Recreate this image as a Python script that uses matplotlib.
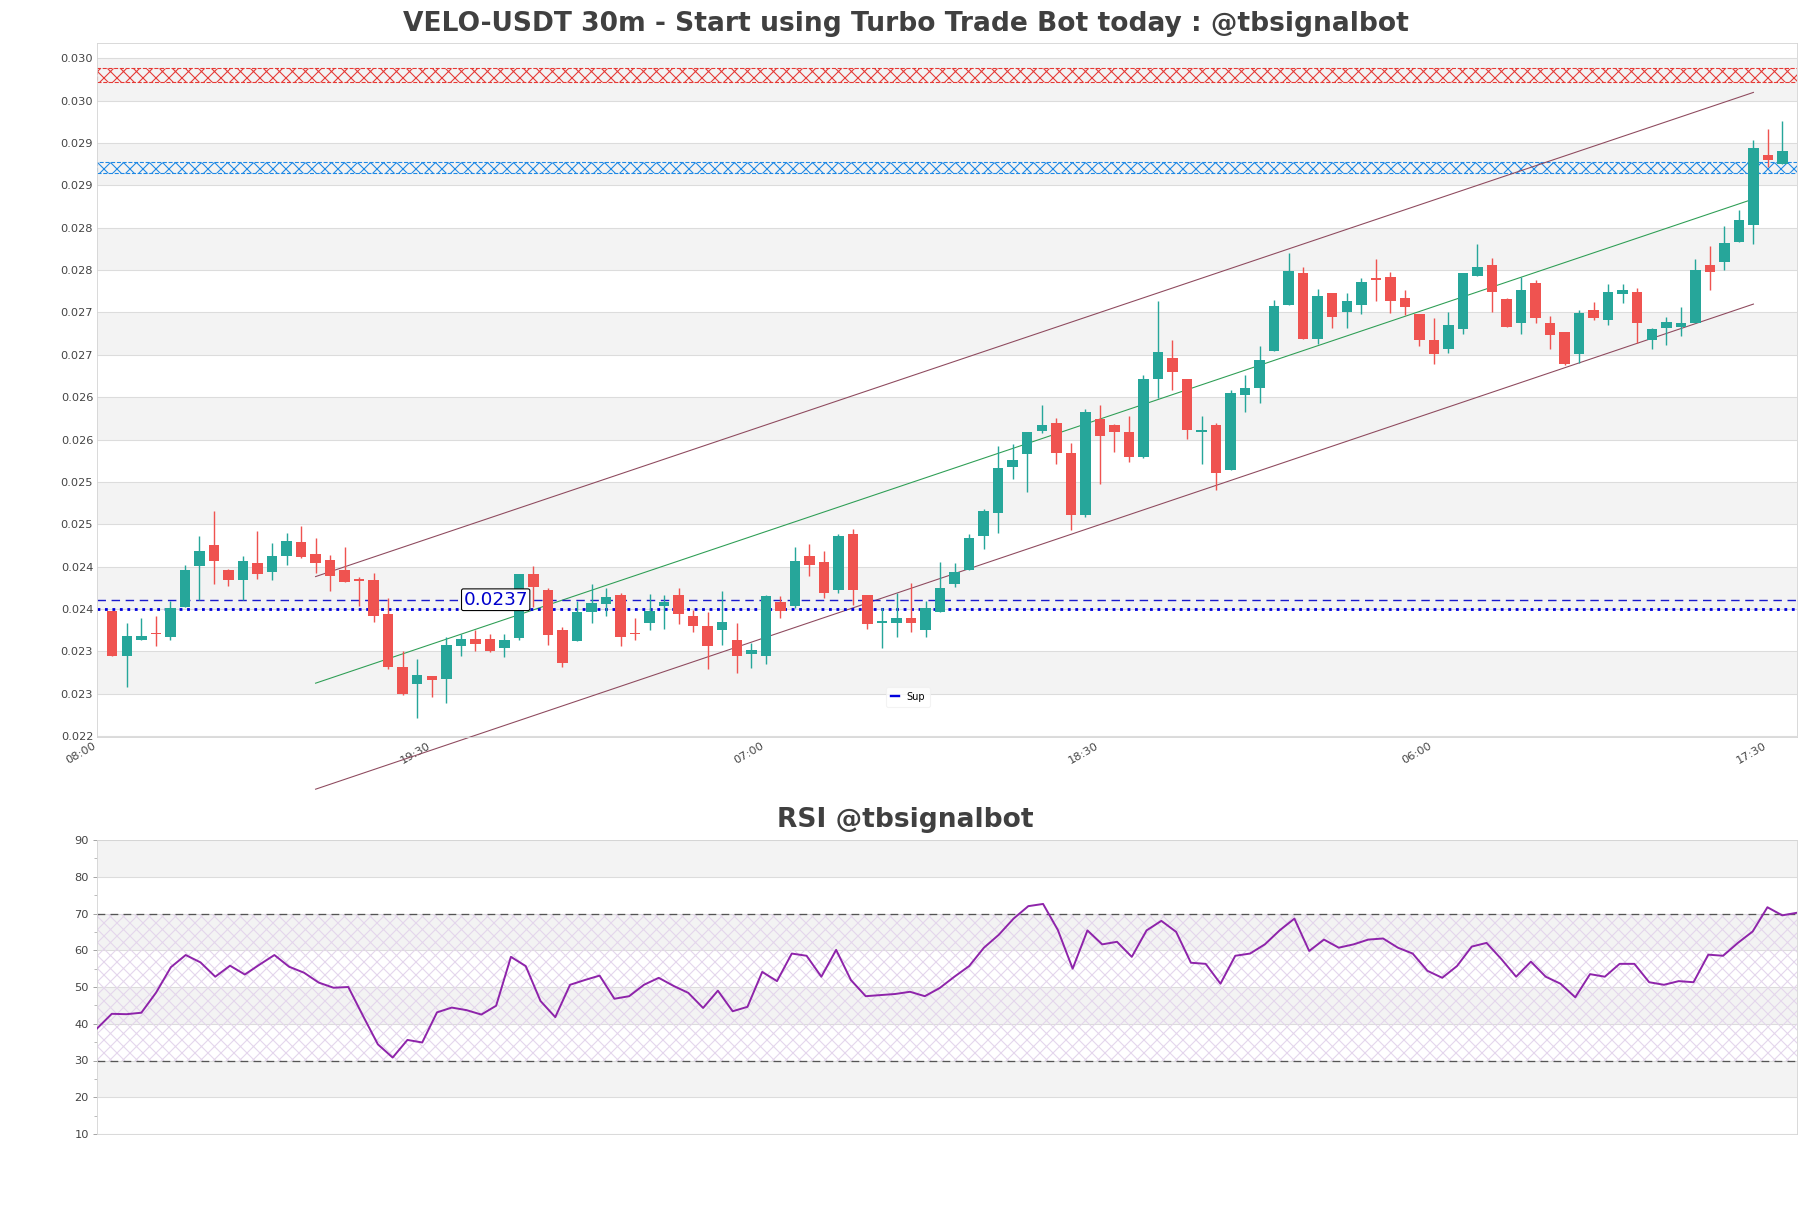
import matplotlib
matplotlib.use("Agg")
import matplotlib.pyplot as plt
import numpy as np

# 30m candles, values
opens = [0.02348, 0.02295, 0.02314, 0.02322, 0.02317, 0.02353, 0.02401, 0.02426, 0.02396, 0.02384,
         0.02404, 0.02394, 0.02413, 0.02429, 0.02415, 0.02408, 0.02396, 0.02384, 0.02384, 0.02344,
         0.02282, 0.02262, 0.02271, 0.02268, 0.02306, 0.02315, 0.02315, 0.02304, 0.02316, 0.02391,
         0.02373, 0.02325, 0.02312, 0.02346, 0.02356, 0.02367, 0.02321, 0.02333, 0.02354, 0.02366,
         0.02342, 0.02330, 0.02325, 0.02314, 0.02297, 0.02294, 0.02358, 0.02354, 0.02413, 0.02406,
         0.02373, 0.02438, 0.02367, 0.02334, 0.02333, 0.02339, 0.02325, 0.02346, 0.02379, 0.02396,
         0.02436, 0.02463, 0.02518, 0.02533, 0.02560, 0.02569, 0.02534, 0.02461, 0.02574, 0.02567,
         0.02559, 0.02530, 0.02622, 0.02646, 0.02622, 0.02559, 0.02567, 0.02514, 0.02603, 0.02611,
         0.02655, 0.02709, 0.02746, 0.02669, 0.02723, 0.02700, 0.02709, 0.02741, 0.02742, 0.02717,
         0.02698, 0.02668, 0.02657, 0.02680, 0.02743, 0.02756, 0.02716, 0.02687, 0.02735, 0.02688,
         0.02677, 0.02651, 0.02703, 0.02691, 0.02722, 0.02724, 0.02668, 0.02682, 0.02683, 0.02688,
         0.02756, 0.02759, 0.02783, 0.02803, 0.02886, 0.02875]
highs = [0.02348, 0.02334, 0.02340, 0.02342, 0.02360, 0.02402, 0.02436, 0.02466, 0.02397, 0.02413,
         0.02442, 0.02428, 0.02440, 0.02448, 0.02434, 0.02414, 0.02423, 0.02388, 0.02392, 0.02363,
         0.02301, 0.02291, 0.02271, 0.02317, 0.02321, 0.02325, 0.02321, 0.02321, 0.02391, 0.02401,
         0.02375, 0.02329, 0.02360, 0.02380, 0.02375, 0.02369, 0.02339, 0.02368, 0.02366, 0.02375,
         0.02349, 0.02346, 0.02371, 0.02334, 0.02310, 0.02366, 0.02365, 0.02423, 0.02427, 0.02419,
         0.02438, 0.02445, 0.02367, 0.02351, 0.02369, 0.02381, 0.02360, 0.02406, 0.02404, 0.02438,
         0.02468, 0.02543, 0.02545, 0.02559, 0.02591, 0.02575, 0.02546, 0.02586, 0.02591, 0.02568,
         0.02578, 0.02626, 0.02714, 0.02668, 0.02622, 0.02578, 0.02570, 0.02608, 0.02626, 0.02661,
         0.02715, 0.02770, 0.02754, 0.02728, 0.02723, 0.02723, 0.02741, 0.02763, 0.02748, 0.02727,
         0.02698, 0.02693, 0.02700, 0.02746, 0.02781, 0.02764, 0.02717, 0.02742, 0.02738, 0.02696,
         0.02677, 0.02703, 0.02712, 0.02734, 0.02734, 0.02729, 0.02682, 0.02695, 0.02706, 0.02763,
         0.02778, 0.02802, 0.02821, 0.02903, 0.02916, 0.02926]
lows = [0.02295, 0.02258, 0.02313, 0.02306, 0.02314, 0.02353, 0.02361, 0.02379, 0.02377, 0.02361,
        0.02386, 0.02384, 0.02402, 0.02410, 0.02392, 0.02371, 0.02382, 0.02354, 0.02335, 0.02279,
        0.02249, 0.02221, 0.02246, 0.02239, 0.02295, 0.02300, 0.02299, 0.02293, 0.02313, 0.02352,
        0.02308, 0.02282, 0.02312, 0.02334, 0.02342, 0.02306, 0.02313, 0.02325, 0.02326, 0.02332,
        0.02323, 0.02279, 0.02308, 0.02275, 0.02281, 0.02285, 0.02339, 0.02351, 0.02389, 0.02363,
        0.02369, 0.02355, 0.02327, 0.02304, 0.02317, 0.02323, 0.02317, 0.02346, 0.02376, 0.02396,
        0.02421, 0.02440, 0.02504, 0.02488, 0.02558, 0.02521, 0.02443, 0.02459, 0.02497, 0.02535,
        0.02523, 0.02528, 0.02599, 0.02609, 0.02551, 0.02521, 0.02490, 0.02514, 0.02583, 0.02593,
        0.02655, 0.02709, 0.02669, 0.02663, 0.02682, 0.02682, 0.02698, 0.02713, 0.02699, 0.02697,
        0.02661, 0.02639, 0.02652, 0.02674, 0.02743, 0.02700, 0.02683, 0.02674, 0.02687, 0.02657,
        0.02638, 0.02640, 0.02691, 0.02685, 0.02711, 0.02664, 0.02657, 0.02662, 0.02672, 0.02688,
        0.02726, 0.02750, 0.02783, 0.02781, 0.02872, 0.02875]
closes = [0.02295, 0.02318, 0.02318, 0.02320, 0.02351, 0.02396, 0.02419, 0.02407, 0.02384, 0.02407,
          0.02391, 0.02413, 0.02430, 0.02412, 0.02404, 0.02389, 0.02382, 0.02383, 0.02342, 0.02282,
          0.02250, 0.02272, 0.02266, 0.02308, 0.02315, 0.02309, 0.02300, 0.02314, 0.02391, 0.02376,
          0.02319, 0.02286, 0.02346, 0.02357, 0.02364, 0.02317, 0.02320, 0.02348, 0.02358, 0.02344,
          0.02330, 0.02306, 0.02335, 0.02294, 0.02302, 0.02365, 0.02348, 0.02407, 0.02402, 0.02369,
          0.02436, 0.02372, 0.02332, 0.02336, 0.02339, 0.02333, 0.02351, 0.02375, 0.02394, 0.02434,
          0.02466, 0.02517, 0.02526, 0.02559, 0.02567, 0.02534, 0.02461, 0.02582, 0.02554, 0.02559,
          0.02529, 0.02622, 0.02653, 0.02630, 0.02561, 0.02561, 0.02510, 0.02605, 0.02611, 0.02644,
          0.02708, 0.02749, 0.02669, 0.02720, 0.02695, 0.02713, 0.02736, 0.02738, 0.02713, 0.02707,
          0.02667, 0.02651, 0.02685, 0.02746, 0.02754, 0.02724, 0.02683, 0.02727, 0.02693, 0.02673,
          0.02639, 0.02699, 0.02693, 0.02724, 0.02726, 0.02687, 0.02680, 0.02689, 0.02687, 0.02750,
          0.02748, 0.02782, 0.02809, 0.02894, 0.02880, 0.02891]

rsi = [38.7, 42.7, 42.6, 43.0, 48.5, 55.4, 58.7, 56.7, 52.8, 55.8,
       53.4, 56.1, 58.7, 55.5, 53.9, 51.2, 49.8, 50.0, 42.1, 34.4,
       30.8, 35.6, 34.9, 43.1, 44.4, 43.7, 42.5, 44.9, 58.2, 55.7,
       46.2, 41.8, 50.6, 51.9, 53.1, 46.8, 47.5, 50.6, 52.5, 50.3,
       48.4, 44.3, 49.0, 43.4, 44.6, 54.1, 51.6, 59.1, 58.5, 52.8,
       60.1, 51.9, 47.5, 47.8, 48.1, 48.7, 47.5, 49.7, 52.8, 55.7,
       60.7, 64.2, 68.6, 72.0, 72.6, 65.5, 55.0, 65.4, 61.6,
       62.3, 58.2, 65.4, 68.0, 65.0, 56.6, 56.3, 50.9, 58.5, 59.1,
       61.6, 65.4, 68.6, 59.8, 62.9, 60.7, 61.6, 62.9, 63.2, 60.7,
       59.1, 54.4, 52.5, 55.7, 61.0, 62.0, 57.6, 52.8, 56.9, 52.8,
       50.9, 47.2, 53.5, 52.8, 56.3, 56.3, 51.3, 50.6, 51.6, 51.3,
       58.8, 58.5, 62.0, 65.1, 71.7, 69.5, 70.2]

time_ticks = [0, 23, 46, 69, 92, 115]
time_labels = ["08:00", "19:30", "07:00", "18:30", "06:00", "17:30"]
price_ticks = [0.0220, 0.0225, 0.0230, 0.0235, 0.0240, 0.0245, 0.0250, 0.0255, 0.0260,
               0.0265, 0.0270, 0.0275, 0.0280, 0.0285, 0.0290, 0.0295, 0.0300]
price_labels = ["0.022", "0.023", "0.023", "0.024", "0.024", "0.025", "0.025", "0.026", "0.026",
                "0.027", "0.027", "0.028", "0.028", "0.029", "0.029", "0.030", "0.030"]
rsi_ticks = [10, 20, 30, 40, 50, 60, 70, 80, 90]

# channel (start index, end index, prices)
chan_x = [15, 114]
chan_upper = [0.023883, 0.029597]
chan_mid = [0.022625, 0.028339]
chan_lower = [0.021374, 0.027099]

resist_zone = [0.02972, 0.02989]
resist2_zone = [0.02864, 0.02878]
sup_dash = 0.02361
sup_line = 0.02350
sup_text = "0.0237"

title = "VELO-USDT 30m - Start using Turbo Trade Bot today : @tbsignalbot"
rsi_title = "RSI @tbsignalbot"

W, H, DPI = 1811, 1208, 78
fig = plt.figure(figsize=(W / DPI, H / DPI), dpi=DPI)
ax = fig.add_axes([97 / W, 1 - 737 / H, 1700 / W, 694 / H])
ax2 = fig.add_axes([97 / W, 1 - 1134 / H, 1700 / W, 294 / H])

grey = "#f3f3f3"
gridc = "#dcdcdc"

# price panel
for k in range(len(price_ticks) - 1):
    if k % 2 == 1:
        ax.axhspan(price_ticks[k], price_ticks[k + 1], color=grey, lw=0, zorder=0)
for t in price_ticks:
    ax.axhline(t, color=gridc, lw=1, zorder=0.5)

ax.axhspan(resist_zone[0], resist_zone[1], facecolor="none", edgecolor="#e53935",
           hatch="xx", lw=1, ls="--", zorder=1)
ax.axhspan(resist2_zone[0], resist2_zone[1], facecolor="none", edgecolor="#1e88e5",
           hatch="xx", lw=1, ls="--", zorder=1)

ax.plot(chan_x, chan_upper, color="#8e4a5e", lw=1, clip_on=False, zorder=2)
ax.plot(chan_x, chan_lower, color="#8e4a5e", lw=1, clip_on=False, zorder=2)
ax.plot(chan_x, chan_mid, color="#2e9e55", lw=1, zorder=2)

ax.axhline(sup_dash, color="#1a1acc", lw=1.3, ls=(0, (6, 4)), zorder=2)
ax.axhline(sup_line, color="#0000dd", lw=2.6, ls=":", zorder=2, label="Sup")

o = np.array(opens)
h = np.array(highs)
l = np.array(lows)
c = np.array(closes)
x = np.arange(1, len(o) + 1)
up = c >= o
cols = np.where(up, "#26a69a", "#ef5350")
body_lo = np.minimum(o, c)
body_h = np.maximum(np.abs(c - o), 0.000022)
ax.vlines(x, l, h, colors=cols, lw=1.3, zorder=3)
ax.bar(x, body_h, bottom=body_lo, width=0.72, color=cols, lw=0, zorder=4)

ax.text(27.4, sup_dash, sup_text, color="#0000cc", fontsize=17, ha="center", va="center",
        zorder=6, bbox=dict(boxstyle="round,pad=0.1", fc="white", ec="black", lw=1))

ax.set_xlim(-0.05, 117.0)
ax.set_ylim(0.02199, 0.03018)
ax.set_yticks(price_ticks)
ax.set_yticklabels(price_labels)
ax.set_xticks(time_ticks)
ax.set_xticklabels(time_labels, rotation=30, ha="right")
ax.tick_params(axis="both", length=0, labelsize=10.5, labelcolor="#444444")
ax.tick_params(axis="x", pad=3)
for s in ax.spines.values():
    s.set_color("#d5d5d5")

leg = ax.legend(loc="center", bbox_to_anchor=(0.477, 0.058), fontsize=9, frameon=True,
                handlelength=0.8, borderpad=0.5)
leg.get_frame().set_edgecolor("#f0f0f0")
leg.get_frame().set_facecolor("white")
leg.legend_handles[0].set_linestyle("-")
leg.legend_handles[0].set_linewidth(2.2)

# RSI panel
for k in range(len(rsi_ticks) - 1):
    if k % 2 == 1:
        ax2.axhspan(rsi_ticks[k], rsi_ticks[k + 1], color=grey, lw=0, zorder=0)
for t in rsi_ticks:
    ax2.axhline(t, color=gridc, lw=1, zorder=0.5)
ax2.axhspan(30, 70, facecolor="none", edgecolor="#e4d6ec", hatch="xx", lw=0, zorder=0.7)
ax2.axhline(70, color="#555555", lw=1.2, ls=(0, (6, 4)), zorder=1)
ax2.axhline(30, color="#555555", lw=1.2, ls=(0, (6, 4)), zorder=1)
ax2.plot(np.arange(len(rsi)), rsi, color="#8e24aa", lw=1.8, zorder=3)
ax2.set_xlim(0, len(rsi) - 1)
ax2.set_ylim(10, 90)
ax2.set_yticks(rsi_ticks)
ax2.set_yticks([15, 25, 35, 45, 55, 65, 75, 85], minor=True)
ax2.set_xticks([])
ax2.tick_params(axis="y", which="both", length=4, color="#999999", labelsize=10.5, labelcolor="#444444")
ax2.tick_params(axis="y", which="minor", length=3)
for s in ax2.spines.values():
    s.set_color("#d5d5d5")

fig.text(0.5, 1 - 24 / H, title, ha="center", va="center", fontsize=24.5, fontweight="bold",
         color="#404040")
fig.text(0.5, 1 - 820 / H, rsi_title, ha="center", va="center", fontsize=24.5, fontweight="bold",
         color="#404040")

fig.savefig("out.png", dpi=DPI)
